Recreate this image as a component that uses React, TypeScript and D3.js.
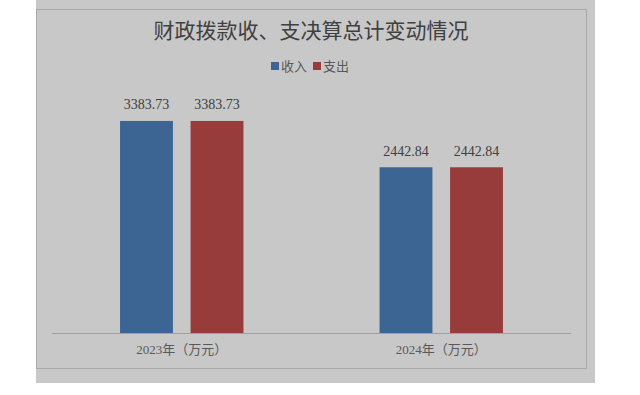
import React, { useRef, useEffect } from 'react';
import * as d3 from 'd3';

const years = ['2023年（万元）', '2024年（万元）'];
const seriesNames = ['收入', '支出'];
const income = [3383.73, 2442.84];
const expense = [3383.73, 2442.84];
const colors = ['#3c6594', '#973c3b'];

const App = () => {
  const svgRef = useRef<SVGSVGElement | null>(null);

  useEffect(() => {
    const width = 640;
    const height = 395;
    const svg = d3.select(svgRef.current);
    svg.selectAll('*').remove();

    const font = '"Liberation Serif", "Noto Sans CJK SC", serif';

    // grey panel + inner chart border
    svg.append('rect').attr('x', 36).attr('y', 0).attr('width', 559).attr('height', 383).attr('fill', '#c8c8c8');
    svg.append('rect').attr('x', 36.5).attr('y', 9.5).attr('width', 550).attr('height', 359)
      .attr('fill', 'none').attr('stroke', '#a8a8a8').attr('stroke-width', 1);

    svg.append('text')
      .attr('x', 311).attr('y', 38)
      .attr('text-anchor', 'middle')
      .style('font-family', font)
      .style('font-size', '21px')
      .style('fill', '#404040')
      .text('财政拨款收、支决算总计变动情况');

    // legend
    const legend = svg.append('g');
    let lx = 271;
    seriesNames.forEach((name, i) => {
      legend.append('rect').attr('x', lx).attr('y', 62).attr('width', 8).attr('height', 8).attr('fill', colors[i]);
      legend.append('text').attr('x', lx + 10).attr('y', 71)
        .style('font-family', font).style('font-size', '13px').style('fill', '#595959')
        .text(name);
      lx += 42;
    });

    const x0 = d3.scaleBand().domain(years).range([52, 571]).paddingInner(0).paddingOuter(0);
    const x1 = d3.scaleBand().domain(seriesNames).range([0, x0.bandwidth()]).paddingInner(0.25).paddingOuter(0.965);
    const y = d3.scaleLinear().domain([-925, 3700]).range([333, 105.4]);

    const rows = years.map((yr, i) => ({ year: yr, values: [income[i], expense[i]] }));

    const groups = svg.selectAll('.grp').data(rows).enter().append('g')
      .attr('class', 'grp')
      .attr('transform', d => `translate(${x0(d.year)},0)`);

    groups.selectAll('rect').data(d => d.values.map((v, i) => ({ key: seriesNames[i], v, i })))
      .enter().append('rect')
      .attr('x', d => x1(d.key)!)
      .attr('y', d => y(d.v))
      .attr('width', x1.bandwidth())
      .attr('height', d => y(-925) - y(d.v))
      .attr('fill', d => colors[d.i]);

    groups.selectAll('text.val').data(d => d.values.map((v, i) => ({ key: seriesNames[i], v, i })))
      .enter().append('text')
      .attr('class', 'val')
      .attr('x', d => x1(d.key)! + x1.bandwidth() / 2)
      .attr('y', d => y(d.v) - 11.5)
      .attr('text-anchor', 'middle')
      .style('font-family', font).style('font-size', '14px').style('fill', '#404040')
      .text(d => d.v.toFixed(2));

    // baseline
    svg.append('line').attr('x1', 52).attr('x2', 571).attr('y1', 333.5).attr('y2', 333.5)
      .attr('stroke', '#a0a0a0').attr('stroke-width', 1);

    svg.selectAll('.xl').data(years).enter().append('text')
      .attr('class', 'xl')
      .attr('x', d => x0(d)! + x0.bandwidth() / 2)
      .attr('y', 354)
      .attr('text-anchor', 'middle')
      .style('font-family', font).style('font-size', '13px').style('fill', '#595959')
      .text(d => d);

    svg.attr('width', width).attr('height', height);
  }, []);

  return <svg ref={svgRef} width={640} height={395} style={{ position: 'absolute', left: 0, top: 0, background: '#fff' }} />;
};

export default App;
